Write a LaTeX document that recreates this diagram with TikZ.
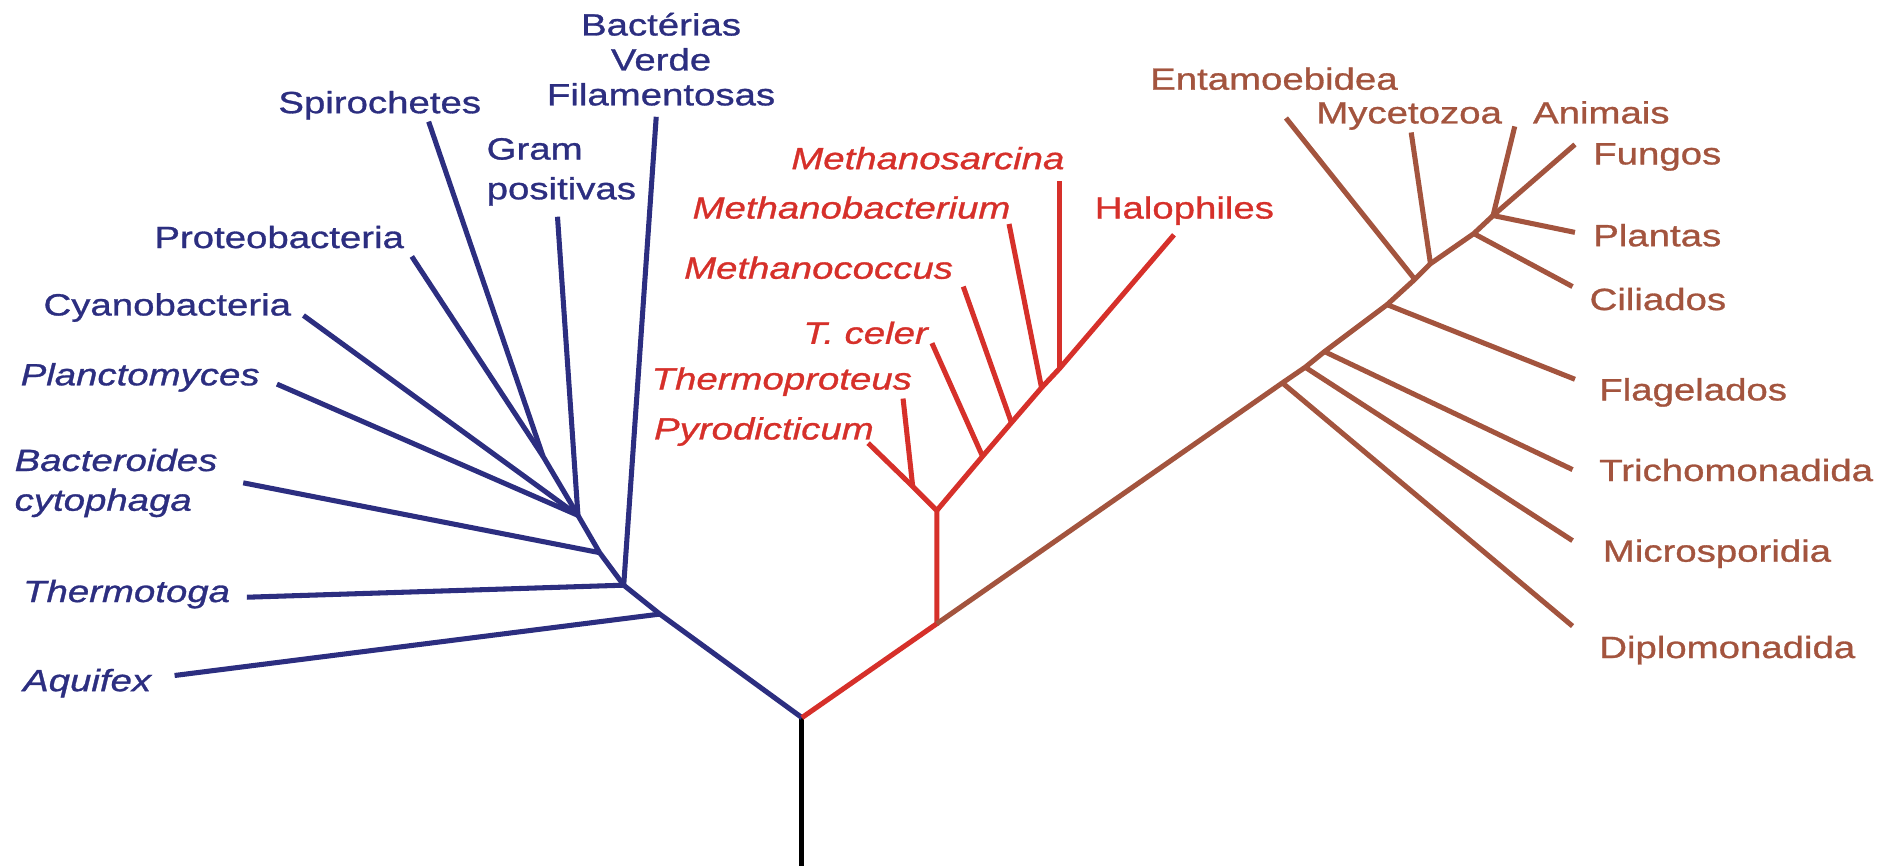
\documentclass[tikz,border=0pt]{standalone}
\usepackage{fontspec}
\setmainfont{Liberation Sans}[FakeStretch=1.25,FakeBold=1]
\usepackage{tikz}
\definecolor{bactblue}{RGB}{44,46,128}
\definecolor{archred}{RGB}{214,48,42}
\definecolor{eukbrown}{RGB}{163,84,62}

\begin{document}
\begin{tikzpicture}[x=1pt,y=-1pt,
    lbl/.style={inner sep=0pt,font=\fontsize{25.5}{29}\selectfont},
    lbli/.style={lbl,font=\fontsize{25.5}{29}\selectfont\itshape},
    branch/.style={line width=4.2pt}]
  \useasboundingbox (0,0) rectangle (1568,719);
  % junctions
  \coordinate (base) at (666,719);
  \coordinate (root) at (666,596);
  \coordinate (bA) at (548,510);
  \coordinate (bT) at (518,486);
  \coordinate (bB) at (498,459);
  \coordinate (bG) at (480,428);
  \coordinate (bS) at (451,379);
  \coordinate (rR) at (778,518);
  \coordinate (rY) at (778,424);
  \coordinate (rP) at (758,404);
  \coordinate (rC) at (816,379);
  \coordinate (rM) at (840,351);
  \coordinate (rB) at (865,322);
  \coordinate (rS) at (880,306);
  \coordinate (eD) at (1065,318);
  \coordinate (eM) at (1084,305);
  \coordinate (eT) at (1100,292);
  \coordinate (eF) at (1152,253);
  \coordinate (eE) at (1175,232);
  \coordinate (eY) at (1188,219);
  \coordinate (eC) at (1224,194);
  \coordinate (eA) at (1240,179);
  % tips
  \coordinate (tAqu) at (145,561);
  \coordinate (tThe) at (205,496);
  \coordinate (tFil) at (545,97);
  \coordinate (tBac) at (202,401);
  \coordinate (tGra) at (463,180);
  \coordinate (tPla) at (230,319);
  \coordinate (tCya) at (252,262);
  \coordinate (tPro) at (342,213);
  \coordinate (tSpi) at (356,101);
  \coordinate (tPyr) at (721,368);
  \coordinate (tThp) at (750,331);
  \coordinate (tCel) at (774,285);
  \coordinate (tMco) at (800,238);
  \coordinate (tMba) at (838,186);
  \coordinate (tMsa) at (880,150);
  \coordinate (tHal) at (975,195);
  \coordinate (tEnt) at (1068,98);
  \coordinate (tMyc) at (1172,110);
  \coordinate (tAni) at (1258,105);
  \coordinate (tFun) at (1308,120);
  \coordinate (tPlt) at (1308,193);
  \coordinate (tCil) at (1306,238);
  \coordinate (tFla) at (1308,315);
  \coordinate (tTri) at (1306,390);
  \coordinate (tMic) at (1306,449);
  \coordinate (tDip) at (1306,520);

  % bacteria
  \node[lbl,anchor=north,align=center,text=bactblue] (fil) at (549,10.5) {Bactérias\\Verde\\Filamentosas};
  \node[lbl,anchor=base west,text=bactblue] (spi) at (231,94) {Spirochetes};
  \node[lbl,anchor=north west,align=left,text=bactblue] (gra) at (404,114.5) {Gram\\[4pt]positivas};
  \node[lbl,anchor=base west,text=bactblue] (pro) at (128,206) {Proteobacteria};
  \node[lbl,anchor=base west,text=bactblue] (cya) at (36,262) {Cyanobacteria};
  \node[lbli,anchor=base west,text=bactblue] (pla) at (17,320) {Planctomyces};
  \node[lbli,anchor=north west,align=left,text=bactblue] (bac) at (12,372.5) {Bacteroides\\[4pt]cytophaga};
  \node[lbli,anchor=base west,text=bactblue] (the) at (19,500) {Thermotoga};
  \node[lbli,anchor=base west,text=bactblue] (aqu) at (19,574) {Aquifex};
  % archaea
  \node[lbli,anchor=base west,text=archred] (msa) at (657,140.5) {Methanosarcina};
  \node[lbli,anchor=base west,text=archred] (mba) at (575,181.5) {Methanobacterium};
  \node[lbli,anchor=base west,text=archred] (mco) at (568,231.5) {Methanococcus};
  \node[lbli,anchor=base west,text=archred] (cel) at (667,285.5) {T. celer};
  \node[lbli,anchor=base west,text=archred] (thp) at (541,323.5) {Thermoproteus};
  \node[lbli,anchor=base west,text=archred] (pyr) at (543,365) {Pyrodicticum};
  \node[lbl,anchor=base west,text=archred] (hal) at (909,181.5) {Halophiles};
  % eukaryotes
  \node[lbl,anchor=base west,text=eukbrown] (ent) at (955,74.5) {Entamoebidea};
  \node[lbl,anchor=base west,text=eukbrown] (myc) at (1093,102.5) {Mycetozoa};
  \node[lbl,anchor=base west,text=eukbrown] (ani) at (1273,102.5) {Animais};
  \node[lbl,anchor=base west,text=eukbrown] (fun) at (1323,136.5) {Fungos};
  \node[lbl,anchor=base west,text=eukbrown] (plt) at (1323,204.5) {Plantas};
  \node[lbl,anchor=base west,text=eukbrown] (cil) at (1320,257.5) {Ciliados};
  \node[lbl,anchor=base west,text=eukbrown] (fla) at (1328,332.5) {Flagelados};
  \node[lbl,anchor=base west,text=eukbrown] (tri) at (1328,399.5) {Trichomonadida};
  \node[lbl,anchor=base west,text=eukbrown] (mic) at (1331,466.5) {Microsporidia};
  \node[lbl,anchor=base west,text=eukbrown] (dip) at (1328,546.5) {Diplomonadida};

  % branches
  \draw[branch] (base) -- (root);
  \draw[branch,bactblue] (root) -- (bA) -- (bT) -- (bB) -- (bG) -- (bS) -- (tSpi);
  \draw[branch,bactblue] (bA) -- (tAqu);
  \draw[branch,bactblue] (bT) -- (tThe);
  \draw[branch,bactblue] (bT) -- (tFil);
  \draw[branch,bactblue] (bB) -- (tBac);
  \draw[branch,bactblue] (bG) -- (tGra);
  \draw[branch,bactblue] (bG) -- (tPla);
  \draw[branch,bactblue] (bG) -- (tCya);
  \draw[branch,bactblue] (bS) -- (tPro);
  \draw[branch,archred] (root) -- (rR) -- (rY) -- (rP) -- (tPyr);
  \draw[branch,archred] (rP) -- (tThp);
  \draw[branch,archred] (rY) -- (rC) -- (rM) -- (rB) -- (rS) -- (tHal);
  \draw[branch,archred] (rC) -- (tCel);
  \draw[branch,archred] (rM) -- (tMco);
  \draw[branch,archred] (rB) -- (tMba);
  \draw[branch,archred] (rS) -- (tMsa);
  \draw[branch,eukbrown] (rR) -- (eD) -- (eM) -- (eT) -- (eF) -- (eE) -- (eY) -- (eC) -- (eA) -- (tFun);
  \draw[branch,eukbrown] (eD) -- (tDip);
  \draw[branch,eukbrown] (eM) -- (tMic);
  \draw[branch,eukbrown] (eT) -- (tTri);
  \draw[branch,eukbrown] (eF) -- (tFla);
  \draw[branch,eukbrown] (eE) -- (tEnt);
  \draw[branch,eukbrown] (eY) -- (tMyc);
  \draw[branch,eukbrown] (eC) -- (tCil);
  \draw[branch,eukbrown] (eA) -- (tPlt);
  \draw[branch,eukbrown] (eA) -- (tAni);
\end{tikzpicture}
\end{document}
